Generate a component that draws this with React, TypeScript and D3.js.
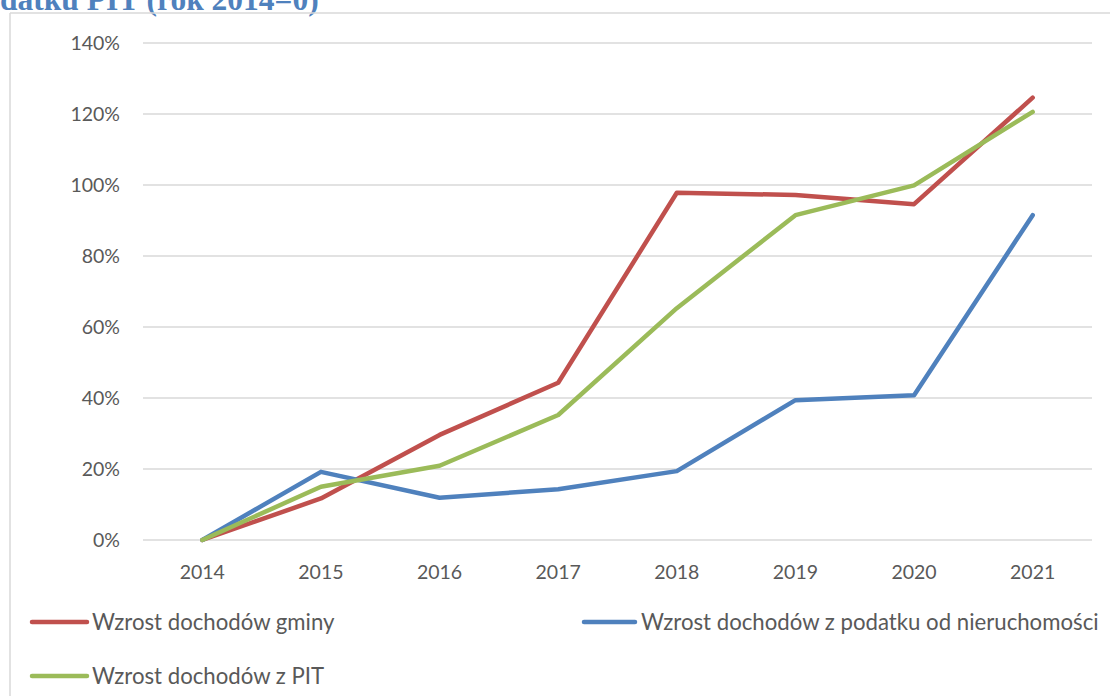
import React from "react";
import * as d3 from "d3";

const years = ["2014", "2015", "2016", "2017", "2018", "2019", "2020", "2021"];
const gmina = [0, 11.7, 29.6, 44.3, 97.8, 97.2, 94.6, 124.6];
const nieruchomosci = [0, 19.2, 11.9, 14.3, 19.4, 39.4, 40.8, 91.5];
const pit = [0, 15.0, 20.9, 35.2, 65.3, 91.5, 99.9, 120.6];
const yTicks = [0, 20, 40, 60, 80, 100, 120, 140];
const seriesNames = [
  "Wzrost dochodów gminy",
  "Wzrost dochodów z podatku od nieruchomości",
  "Wzrost dochodów z PIT",
];
const titleText = "datku PIT (rok 2014=0)";

const colors = ["#C0504D", "#4F81BD", "#9BBB59"];
const font = "Lato, 'Open Sans', sans-serif";

export default function App() {
  const W = 1110;
  const H = 696;
  const x = d3.scaleBand<string>().domain(years).range([143, 1092]);
  const y = d3.scaleLinear().domain([0, 140]).range([540, 43]);
  const cx = (yr: string) => (x(yr) as number) + x.bandwidth() / 2;
  const line = d3
    .line<number>()
    .x((_, i) => cx(years[i]))
    .y((v) => y(v));
  const series = [gmina, nieruchomosci, pit];

  const legend = [
    { x1: 32, x2: 87, y: 622, tx: 92 },
    { x1: 584, x2: 635, y: 622, tx: 641 },
    { x1: 32, x2: 87, y: 676, tx: 92 },
  ];

  return (
    <svg
      width={W}
      height={H}
      style={{ position: "absolute", left: 0, top: 0, background: "#fff" }}
    >
      <rect x={0} y={0} width={W} height={H} fill="#fff" />
      <text
        x={0}
        y={10}
        fontFamily="'Liberation Serif', 'Times New Roman', serif"
        fontWeight="bold"
        fontSize={31.5}
        fill="#4F81BD"
      >
        {titleText}
      </text>
      <line x1={10} y1={13} x2={W} y2={13} stroke="#d9d9d9" strokeWidth={1.5} />
      <line x1={10} y1={13} x2={10} y2={H} stroke="#d9d9d9" strokeWidth={1.5} />
      {yTicks.map((t) => (
        <g key={t}>
          <line
            x1={143}
            x2={1092}
            y1={y(t)}
            y2={y(t)}
            stroke="#d9d9d9"
            strokeWidth={1.5}
          />
          <text
            x={120}
            y={y(t) + 7}
            textAnchor="end"
            fontFamily={font}
            fontSize={19.5}
            fill="#595959"
          >
            {t}%
          </text>
        </g>
      ))}
      {years.map((yr) => (
        <text
          key={yr}
          x={cx(yr)}
          y={579}
          textAnchor="middle"
          fontFamily={font}
          fontSize={19.5}
          fill="#595959"
        >
          {yr}
        </text>
      ))}
      {series.map((s, i) => (
        <path
          key={i}
          d={line(s) as string}
          fill="none"
          stroke={colors[i]}
          strokeWidth={4.5}
          strokeLinecap="round"
          strokeLinejoin="round"
        />
      ))}
      {legend.map((l, i) => (
        <g key={i}>
          <line
            x1={l.x1}
            x2={l.x2}
            y1={l.y}
            y2={l.y}
            stroke={colors[i]}
            strokeWidth={4.5}
            strokeLinecap="round"
          />
          <text
            x={l.tx}
            y={l.y + 7.5}
            fontFamily={font}
            fontSize={22.2}
            fill="#595959"
          >
            {seriesNames[i]}
          </text>
        </g>
      ))}
    </svg>
  );
}
